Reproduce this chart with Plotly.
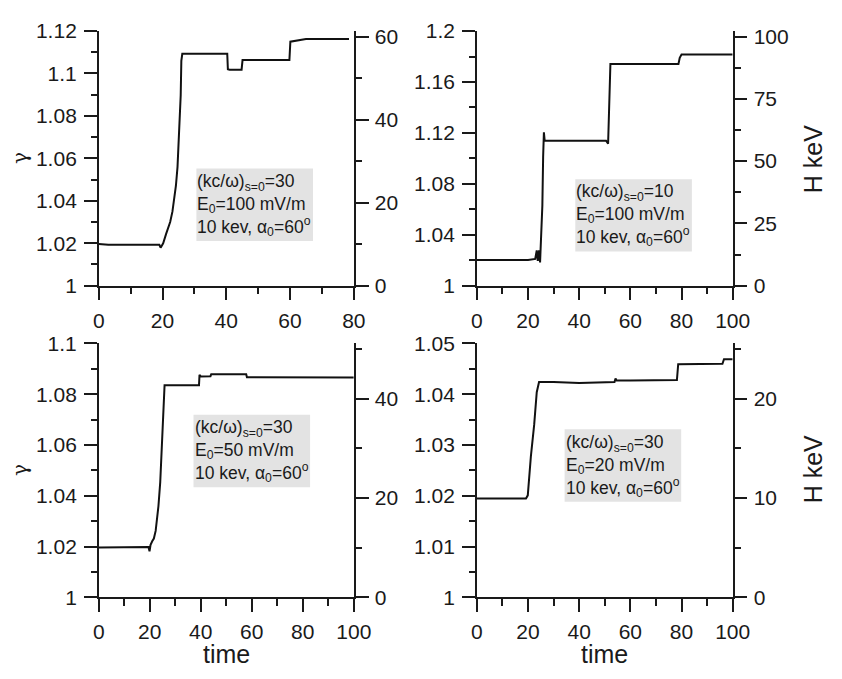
import plotly.graph_objects as go

W, H = 842, 679
MEC2 = 511.0  # keV

# ---- data ----
t1 = [0, 3, 10, 19, 19.4, 20.2, 21.1, 21.8, 22.4, 23.1, 23.6, 24.2, 24.7, 25.2, 25.7, 25.9, 26.2,
      30, 35, 40.3, 40.5, 41, 44.8, 45.1, 50, 59.8, 60.1, 62, 65, 70, 78.5]
g1 = [1.0197, 1.0193, 1.0193, 1.0193, 1.0179, 1.0200, 1.0243, 1.0270, 1.0300, 1.0349, 1.0395, 1.0471, 1.0560, 1.0699, 1.0896, 1.1060, 1.1093,
      1.1093, 1.1093, 1.1093, 1.1020, 1.1018, 1.1018, 1.1063, 1.1063, 1.1063, 1.1150, 1.1156, 1.1162, 1.1162, 1.1162]

t2 = [0, 10, 20, 22.8, 23.4, 23.8, 24.3, 24.7, 25.1, 25.6, 25.9, 26.2, 26.5, 30, 40, 50.5, 51.3, 51.7, 52.2,
      60, 70, 78.8, 79.3, 80, 90, 100]
g2 = [1.0202, 1.0202, 1.0202, 1.0210, 1.0277, 1.0195, 1.0277, 1.0182, 1.0379, 1.0631, 1.1010, 1.1205, 1.1138, 1.1138, 1.1138, 1.1138, 1.1115, 1.1400, 1.1742,
      1.1742, 1.1742, 1.1742, 1.1790, 1.1815, 1.1815, 1.1815]

t3 = [0, 10, 19.5, 19.9, 20.3, 21.0, 21.6, 22.3, 22.8, 23.4, 24.1, 25.0, 25.8, 30, 39.3, 39.5, 40, 43.8, 44.1, 50, 57.8, 58.1, 70, 100]
g3 = [1.0197, 1.0198, 1.0199, 1.0182, 1.0207, 1.0222, 1.0232, 1.0262, 1.0302, 1.0360, 1.0454, 1.0644, 1.0835, 1.0835, 1.0835, 1.0876, 1.0870, 1.0871, 1.0879, 1.0879, 1.0879, 1.0867, 1.0867, 1.0866]

t4 = [0, 10, 19.2, 19.9, 21.1, 22.4, 23.4, 24.3, 30, 40, 53.8, 54.2, 54.6, 60, 70, 78.2, 78.7, 85, 96, 96.6, 100]
g4 = [1.0195, 1.0195, 1.0195, 1.0201, 1.0277, 1.0340, 1.0404, 1.0424, 1.0424, 1.0422, 1.0424, 1.0431, 1.0427, 1.0427, 1.0428, 1.0428, 1.0459, 1.0459, 1.0460, 1.0469, 1.0469]

times = [t1, t2, t3, t4]
gammas = [g1, g2, g3, g4]
xmax = [80, 100, 100, 100]
ymax = [1.12, 1.2, 1.1, 1.05]
ydtick = [0.02, 0.04, 0.02, 0.01]
hdtick = [20, 25, 20, 10]
labels = [
    "(kc/ω)<sub>s=0</sub>=30<br>E<sub>0</sub>=100 mV/m<br>10 kev, α<sub>0</sub>=60<sup>o</sup>",
    "(kc/ω)<sub>s=0</sub>=10<br>E<sub>0</sub>=100 mV/m<br>10 kev, α<sub>0</sub>=60<sup>o</sup>",
    "(kc/ω)<sub>s=0</sub>=30<br>E<sub>0</sub>=50 mV/m<br>10 kev, α<sub>0</sub>=60<sup>o</sup>",
    "(kc/ω)<sub>s=0</sub>=30<br>E<sub>0</sub>=20 mV/m<br>10 kev, α<sub>0</sub>=60<sup>o</sup>",
]

# ---- layout geometry (pixels) ----
cols = [(95.5, 358.0), (484.7, 748.0)]
rows = [(19.7, 283.3), (343.0, 606.0)]
boxes = [(196, 162, 316, 237), (586, 173, 706, 248), (193, 417, 313, 492), (575, 432, 695, 507)]

def px(x):
    return x / W

def py(y):
    return 1 - y / H

FONT = "Liberation Sans, Arial, sans-serif"
INK = "#1a1a1a"

fig = go.Figure()
layout = dict(width=W, height=H, margin=dict(l=0, r=0, t=0, b=0),
              paper_bgcolor="white", plot_bgcolor="white", showlegend=False,
              font=dict(family=FONT, size=21, color=INK))
shapes, annots = [], []

common = dict(showline=True, linecolor=INK, linewidth=1.5, ticks="outside", ticklen=13,
              tickwidth=1.5, tickcolor=INK, showgrid=False, zeroline=False,
              tickfont=dict(family=FONT, size=21, color=INK))
minor_common = dict(ticklen=6.5, tickwidth=1.5, tickcolor=INK, ticks="outside", showgrid=False)

for k in range(4):
    r, c = divmod(k, 2)
    n = k + 1
    xa = "x" if n == 1 else f"x{n}"
    ya = "y" if n == 1 else f"y{n}"
    yr = f"y{n + 4}"
    xd = [px(cols[c][0]), px(cols[c][1])]
    yd = [py(rows[r][1]), py(rows[r][0])]
    layout["xaxis" if n == 1 else f"xaxis{n}"] = dict(
        common, domain=xd, anchor=ya, range=[0, xmax[k]], dtick=20, tick0=0,
        minor=dict(minor_common, dtick=10), ticklabelstandoff=2)
    layout["yaxis" if n == 1 else f"yaxis{n}"] = dict(
        common, domain=yd, anchor=xa, range=[1, ymax[k]], dtick=ydtick[k], tick0=1,
        minor=dict(minor_common, dtick=ydtick[k] / 2), ticklabelstandoff=3)
    hmax = (ymax[k] - 1) * MEC2
    layout[f"yaxis{n + 4}"] = dict(
        common, overlaying=ya, side="right", anchor=xa, range=[0, hmax], dtick=hdtick[k], tick0=0,
        minor=dict(minor_common, dtick=hdtick[k] / 2), ticklabelstandoff=2)

    fig.add_trace(go.Scatter(x=times[k], y=gammas[k], mode="lines", xaxis=xa, yaxis=ya,
                             line=dict(color="#111111", width=2), hoverinfo="skip"))
    fig.add_trace(go.Scatter(x=times[k], y=[(g - 1) * MEC2 for g in gammas[k]], mode="lines",
                             xaxis=xa, yaxis=yr, line=dict(color="rgba(0,0,0,0)", width=0),
                             hoverinfo="skip"))

    bx0, by0, bx1, by1 = boxes[k]
    shapes.append(dict(type="rect", xref="paper", yref="paper", x0=px(bx0), x1=px(bx1),
                       y0=py(by1), y1=py(by0), fillcolor="#e3e3e3", line=dict(width=0), layer="below"))
    annots.append(dict(text=labels[k], xref="paper", yref="paper", x=px(bx0 - 1), y=py((by0 + by1) / 2),
                       xanchor="left", yanchor="middle", align="left", showarrow=False,
                       font=dict(family=FONT, size=17.5, color=INK)))

# axis titles
for yc in [151.5, 474.5]:
    annots.append(dict(text="γ", xref="paper", yref="paper", x=px(15), y=py(yc), textangle=-90,
                       showarrow=False, xanchor="center", yanchor="middle",
                       font=dict(family="DejaVu Serif, serif", size=20, color=INK)))
for yc in [152, 473]:
    annots.append(dict(text="H keV", xref="paper", yref="paper", x=px(831), y=py(yc), textangle=-90,
                       showarrow=False, xanchor="center", yanchor="middle",
                       font=dict(family=FONT, size=25, color=INK)))
for xc in [226.5, 616.5]:
    annots.append(dict(text="time", xref="paper", yref="paper", x=px(xc), y=py(665), showarrow=False,
                       xanchor="center", yanchor="middle", font=dict(family=FONT, size=25, color=INK)))

layout["shapes"] = shapes
layout["annotations"] = annots
fig.update_layout(**layout)
fig.write_html("out.html", post_script="document.body.style.margin='0px';",
               config={"displayModeBar": False})
